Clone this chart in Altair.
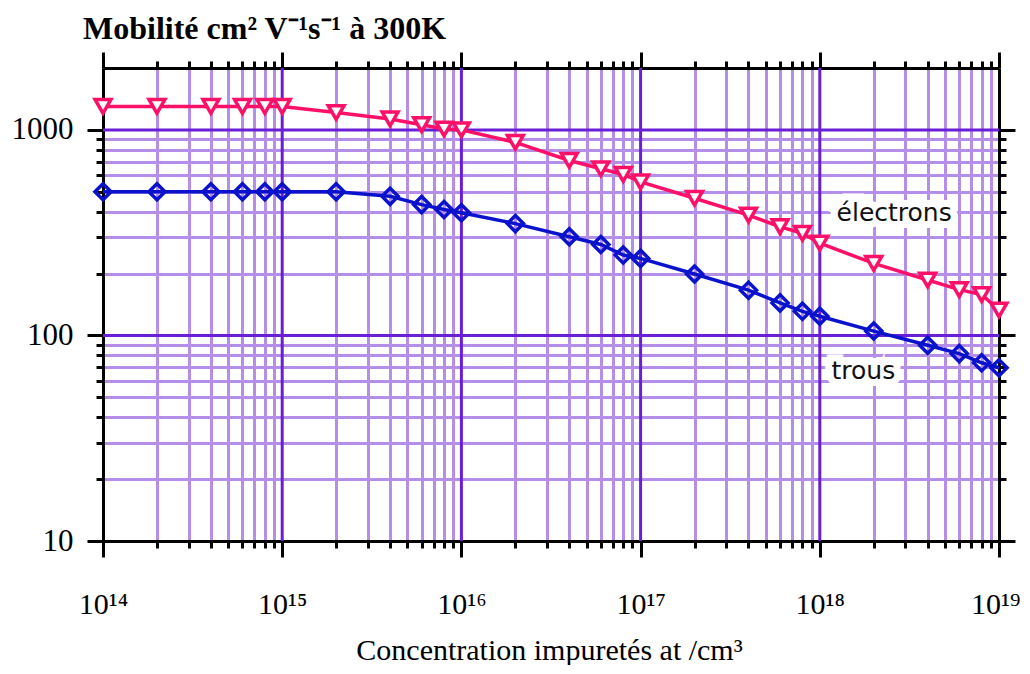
import altair as alt
import pandas as pd

# ---------------- data ----------------
conc = [1e14, 2e14, 4e14, 6e14, 8e14, 1e15, 2e15, 4e15, 6e15, 8e15,
        1e16, 2e16, 4e16, 6e16, 8e16, 1e17, 2e17, 4e17, 6e17, 8e17,
        1e18, 2e18, 4e18, 6e18, 8e18, 1e19]
mob_electrons = [1300, 1300, 1300, 1300, 1300, 1300, 1215, 1130, 1060, 1010,
                 1000, 870, 710, 647, 607, 558, 465, 385, 338, 314,
                 281, 224, 186, 167, 158, 133]
mob_trous = [500, 500, 500, 500, 500, 500, 500, 475, 433, 410,
             395, 350, 302, 277, 246, 237, 199, 166, 144, 131,
             124, 105, 89.6, 81.6, 73.6, 69.6]

x_decades = [1e14, 1e15, 1e16, 1e17, 1e18, 1e19]
x_labels = ["10¹⁴", "10¹⁵", "10¹⁶", "10¹⁷", "10¹⁸", "10¹⁹"]
x_minor = [m * 10.0 ** k for k in range(14, 19) for m in range(2, 10)]
x_major_grid = [1e15, 1e16, 1e17, 1e18]

y_major = [10, 100, 1000]
y_minor = [20, 30, 40, 50, 60, 70, 80, 90, 200, 300, 400, 500, 600, 700, 800, 900]
y_major_grid = [100, 1000]

label_names = ["électrons", "trous"]
label_x = [2.6e18, 1.75e18]
label_y = [393, 66.8]

# ---------------- style ----------------
PINK = "#ff1068"
BLUE = "#0a12cc"
GRID_MINOR = "#b48ee8"
GRID_MAJOR = "#6a1ed6"

df = pd.DataFrame({"conc": conc, "electrons": mob_electrons, "trous": mob_trous})
df_xg = pd.DataFrame({"x": x_major_grid})
df_yg = pd.DataFrame({"y": y_major_grid})
df_lab = pd.DataFrame({"name": label_names, "x": label_x, "y": label_y})

xs = alt.Scale(type="log", domain=[1e14, 1e19], nice=False)
ys = alt.Scale(type="log", domain=[10, 2000], nice=False)

lab_list = "[" + ",".join("'" + s + "'" for s in x_labels) + "]"

ax_bottom_major = alt.Axis(
    orient="bottom", values=x_decades, tickSize=16, tickWidth=3, tickColor="black",
    domain=True, domainColor="black", domainWidth=3, grid=False,
    labelExpr=lab_list + "[round(log(datum.value)/LN10) - 14]",
    labelFont="Liberation Serif", labelFontSize=30, labelColor="black",
    labelAlign={"condition": {"test": "datum.value > 5e18", "value": "right"}, "value": "center"},
    labelOffset={"condition": {"test": "datum.value > 5e18", "value": 21}, "value": 0},
    labelBaseline="alphabetic", labelPadding=56, labelFlush=False, labelOverlap=False,
    title="Concentration impuretés at /cm³", titleFont="Liberation Serif",
    titleFontSize=30, titleFontWeight="normal", titleColor="black",
    titleBaseline="alphabetic", titleY=118, titleX=446, titleAlign="center")
ax_bottom_minor = alt.Axis(
    orient="bottom", values=x_minor, tickSize=7, tickWidth=3, tickColor="black",
    labels=False, domain=False, grid=True, gridColor=GRID_MINOR, gridWidth=3, title="")
ax_top_major = alt.Axis(
    orient="top", values=x_decades, tickSize=16, tickWidth=3, tickColor="black",
    labels=False, domain=True, domainColor="black", domainWidth=3, grid=False, title="")
ax_top_minor = alt.Axis(
    orient="top", values=x_minor, tickSize=7, tickWidth=3, tickColor="black",
    labels=False, domain=False, grid=False, title="")

ax_left_major = alt.Axis(
    orient="left", values=y_major, tickSize=16, tickWidth=3, tickColor="black",
    domain=True, domainColor="black", domainWidth=3, grid=False, format="d",
    labelFont="Liberation Serif", labelFontSize=31, labelColor="black",
    labelPadding=14, labelOverlap=False, title="")
ax_left_minor = alt.Axis(
    orient="left", values=y_minor, tickSize=7, tickWidth=3, tickColor="black",
    labels=False, domain=False, grid=True, gridColor=GRID_MINOR, gridWidth=3, title="")
ax_right_major = alt.Axis(
    orient="right", values=y_major, tickSize=16, tickWidth=3, tickColor="black",
    labels=False, domain=True, domainColor="black", domainWidth=3, grid=False, title="")
ax_right_minor = alt.Axis(
    orient="right", values=y_minor, tickSize=7, tickWidth=3, tickColor="black",
    labels=False, domain=False, grid=False, title="")

vgrid = alt.Chart(df_xg).mark_rule(color=GRID_MAJOR, strokeWidth=3).encode(
    x=alt.X("x:Q", scale=xs, axis=ax_bottom_major))
hgrid = alt.Chart(df_yg).mark_rule(color=GRID_MAJOR, strokeWidth=3).encode(
    y=alt.Y("y:Q", scale=ys, axis=ax_left_major))

e_line = alt.Chart(df).mark_line(color=PINK, strokeWidth=3.5).encode(
    x=alt.X("conc:Q", scale=xs, axis=ax_bottom_minor),
    y=alt.Y("electrons:Q", scale=ys, axis=ax_left_minor))
t_line = alt.Chart(df).mark_line(color=BLUE, strokeWidth=3.5).encode(
    x=alt.X("conc:Q", scale=xs, axis=ax_top_major),
    y=alt.Y("trous:Q", scale=ys, axis=ax_right_major))
t_pts = alt.Chart(df).mark_point(shape="diamond", size=260, filled=False, stroke=BLUE,
                                 strokeWidth=3.5, opacity=1).encode(
    x=alt.X("conc:Q", scale=xs, axis=ax_top_minor),
    y=alt.Y("trous:Q", scale=ys, axis=ax_right_minor))
e_pts = alt.Chart(df).mark_point(shape="triangle-down", size=250, filled=True, fill="white",
                                 stroke=PINK, strokeWidth=3.5, opacity=1).encode(
    x=alt.X("conc:Q", scale=xs, axis=None),
    y=alt.Y("electrons:Q", scale=ys, axis=None))

halo = alt.Chart(df_lab).mark_text(font="DejaVu Sans", fontSize=25, fill="white",
                                   stroke="white", strokeWidth=14, baseline="middle").encode(
    x=alt.X("x:Q", scale=xs, axis=None), y=alt.Y("y:Q", scale=ys, axis=None), text="name:N")
labels = alt.Chart(df_lab).mark_text(font="DejaVu Sans", fontSize=25, color="#111111",
                                     baseline="middle").encode(
    x=alt.X("x:Q", scale=xs, axis=None), y=alt.Y("y:Q", scale=ys, axis=None), text="name:N")

chart = alt.layer(vgrid, hgrid, e_line, t_line, t_pts, e_pts, halo, labels).resolve_axis(
    x="independent", y="independent"
).properties(
    width=896, height=473,
    autosize="none",
    padding={"left": 95, "top": 60, "right": 23, "bottom": 124},
    title=alt.TitleParams(text="Mobilité cm² V⁻¹s⁻¹ à 300K", anchor="start", frame="group",
                          dx=-20, dy=36, font="Liberation Serif", fontSize=32, fontWeight="bold",
                          color="black", baseline="alphabetic", offset=16),
).configure_view(stroke=None).configure(background="white")

chart.save("out.html", embed_options={"renderer": "svg", "actions": False})
